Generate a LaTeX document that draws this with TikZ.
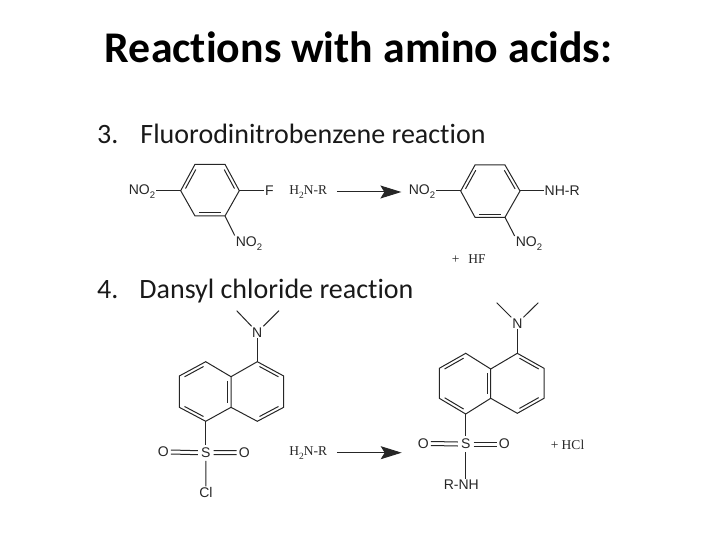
\documentclass[tikz,border=0pt]{standalone}
\usepackage{fontspec}
\setmainfont{Carlito}[Ligatures=NoCommon]
\newfontfamily\atomfont{Liberation Sans}
\newfontfamily\reagfont{Liberation Serif}
\usetikzlibrary{calc,arrows.meta}
\newcommand{\subtwo}{\raisebox{-.28em}{\fontsize{9.5}{9.5}\selectfont 2}}
\newcommand{\dblbond}[2]{\draw[bondline] ($(#1)!.14!(#2)!3.2pt!-90:(#2)$) -- ($(#2)!.14!(#1)!3.2pt!90:(#1)$);}
\tikzset{
  bondline/.style={draw=black!85,line width=1pt},
  atom/.style={font=\atomfont\fontsize{14}{14}\selectfont,text=black!85,inner sep=1pt},
  reagent/.style={font=\reagfont\fontsize{13.5}{14}\selectfont,text=black!85,inner sep=0pt},
  reactarrow/.style={draw=black!85,line width=1pt,-{Stealth[length=21pt,width=13pt,inset=4pt]}},
  heading/.style={font=\bfseries\fontsize{43.8}{46}\selectfont,text=black,inner sep=0pt,anchor=base},
  bullet line/.style={font=\fontsize{28}{30}\selectfont,text=black!90,inner sep=0pt,anchor=base west}
}
\begin{document}
\begin{tikzpicture}[x=1pt,y=-1pt]
\useasboundingbox (0,0) rectangle (720,540);
\node[heading] (title) at (358.5,62.7) {Reactions with amino acids:};
\node[bullet line] (item3) at (97,143.3) {3.\hspace{22pt}Fluorodinitrobenzene reaction};
\node[bullet line] (item4) at (97,298.3) {4.\hspace{21pt}Dansyl chloride reaction};

% --- fluorodinitrobenzene
\coordinate (a1) at (180.7,190.7);
\coordinate (a2) at (195,164.3);
\coordinate (a3) at (225,164.3);
\coordinate (a4) at (239.3,190.7);
\coordinate (a5) at (225,216);
\coordinate (a6) at (195,216);
\draw[bondline] (a1)--(a2)--(a3)--(a4)--(a5)--(a6)--cycle;
\dblbond{a1}{a2}\dblbond{a3}{a4}\dblbond{a5}{a6}
\node[atom] (aL) at (142,191.7) {NO\subtwo};
\node[atom] (aF) at (269.5,190.7) {F};
\node[atom] (aB) at (249,243.5) {NO\subtwo};
\draw[bondline] (aL.east |- a1) -- (a1);
\draw[bondline] (a4) -- (aF.west |- a4);
\draw[bondline] (a5) -- (aB.north west);
\node[reagent] (amineA) at (308.3,192) {H\subtwo N-R};

\coordinate (b1) at (460.7,191);
\coordinate (b2) at (475,165);
\coordinate (b3) at (505,165);
\coordinate (b4) at (520,191);
\coordinate (b5) at (505,217.3);
\coordinate (b6) at (475,217.3);
\draw[bondline] (b1)--(b2)--(b3)--(b4)--(b5)--(b6)--cycle;
\dblbond{b1}{b2}\dblbond{b3}{b4}\dblbond{b5}{b6}
\node[atom] (bL) at (422,191.7) {NO\subtwo};
\node[atom,anchor=west] (bR) at (543.5,191) {NH-R};
\node[atom] (bB) at (529,244) {NO\subtwo};
\draw[bondline] (bL.east |- b1) -- (b1);
\draw[bondline] (b4) -- (bR.west);
\draw[bondline] (b5) -- (bB.north west);
\node[reagent] (hf) at (468.7,259) {+\hspace{9pt}HF};
\draw[reactarrow,shorten <=9.5pt,shorten >=6.3pt] (amineA.east) -- (amineA.east -| bL.west);

% --- dansyl chloride
\coordinate (c1) at (257.3,361.7);
\coordinate (c2) at (283.7,376);
\coordinate (c3) at (283.7,407.3);
\coordinate (c4) at (257.3,421.3);
\coordinate (c5) at (231,407.3);
\coordinate (c6) at (231,376.7);
\coordinate (c7) at (205.7,361.7);
\coordinate (c8) at (179.3,376);
\coordinate (c9) at (179.3,407.3);
\coordinate (c10) at (205.7,421.3);
\draw[bondline] (c1)--(c2)--(c3)--(c4)--(c5)--(c6)--cycle;
\draw[bondline] (c6)--(c7)--(c8)--(c9)--(c10)--(c5);
\dblbond{c1}{c2}\dblbond{c3}{c4}\dblbond{c6}{c5}\dblbond{c8}{c7}\dblbond{c10}{c9}
\node[atom] (cN) at (257.3,332.3) {N};
\coordinate (cM1) at (236.7,310.7);
\coordinate (cM2) at (279,310.7);
\draw[bondline] (cM1) -- (cN);
\draw[bondline] (cM2) -- (cN);
\draw[bondline] (cN) -- (c1);
\node[atom,inner sep=3pt] (cS) at (205.7,452.7) {S};
\node[atom,inner sep=2pt] (cOL) at (163.3,452) {O};
\node[atom,inner sep=2pt] (cOR) at (244.3,452.5) {O};
\node[atom] (cCl) at (206,492.7) {Cl};
\draw[bondline] (c10) -- (cS);
\draw[bondline] (cS) -- (cCl);
\draw[bondline] ([yshift=2pt]cOL.east) -- ([yshift=2pt]cS.west);
\draw[bondline] ([yshift=-2pt]cOL.east) -- ([yshift=-2pt]cS.west);
\draw[bondline] ([yshift=2pt]cS.east) -- ([yshift=2pt]cOR.west);
\draw[bondline] ([yshift=-2pt]cS.east) -- ([yshift=-2pt]cOR.west);
\node[reagent] (amineB) at (308.3,452.7) {H\subtwo N-R};
\coordinate (arrowEnd) at (401.7,452.7);
\draw[reactarrow,shorten <=9.5pt] (amineB.east) -- (arrowEnd);

% --- dansyl amide
\coordinate (d1) at (517.3,353.3);
\coordinate (d2) at (544,368.3);
\coordinate (d3) at (544,398.3);
\coordinate (d4) at (517.3,413.3);
\coordinate (d5) at (490.7,398.3);
\coordinate (d6) at (490.7,369);
\coordinate (d7) at (465.7,353.3);
\coordinate (d8) at (439.3,368.3);
\coordinate (d9) at (439.3,398.3);
\coordinate (d10) at (465.7,414);
\draw[bondline] (d1)--(d2)--(d3)--(d4)--(d5)--(d6)--cycle;
\draw[bondline] (d6)--(d7)--(d8)--(d9)--(d10)--(d5);
\dblbond{d1}{d2}\dblbond{d3}{d4}\dblbond{d6}{d5}\dblbond{d8}{d7}\dblbond{d10}{d9}
\node[atom] (dN) at (517.3,323.3) {N};
\coordinate (dM1) at (496.7,302.7);
\coordinate (dM2) at (538.3,302.7);
\draw[bondline] (dM1) -- (dN);
\draw[bondline] (dM2) -- (dN);
\draw[bondline] (dN) -- (d1);
\node[atom,inner sep=3pt] (dS) at (465.7,444) {S};
\node[atom,inner sep=2pt] (dOL) at (423.3,443.5) {O};
\node[atom,inner sep=2pt] (dOR) at (504.3,444) {O};
\node[atom] (dNH) at (461.3,485) {R-NH};
\draw[bondline] (d10) -- (dS);
\draw[bondline] (dS) -- (dS |- dNH.north);
\draw[bondline] ([yshift=2pt]dOL.east) -- ([yshift=2pt]dS.west);
\draw[bondline] ([yshift=-2pt]dOL.east) -- ([yshift=-2pt]dS.west);
\draw[bondline] ([yshift=2pt]dS.east) -- ([yshift=2pt]dOR.west);
\draw[bondline] ([yshift=-2pt]dS.east) -- ([yshift=-2pt]dOR.west);
\node[reagent] (hcl) at (567.5,445) {+ HCl};
\end{tikzpicture}
\end{document}
